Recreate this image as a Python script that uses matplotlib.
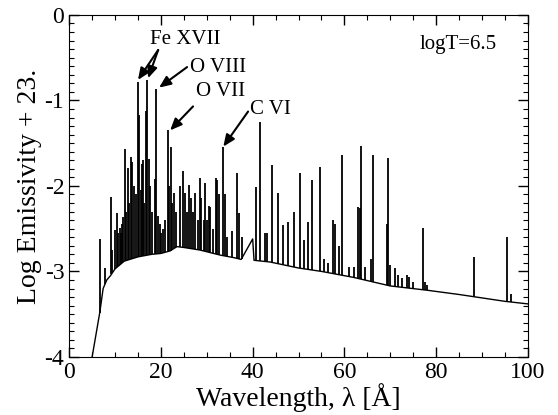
import numpy as np
import matplotlib
matplotlib.use('Agg')
import matplotlib.pyplot as plt
from matplotlib.ticker import MultipleLocator

plt.rcParams['font.family'] = ['Liberation Serif', 'DejaVu Serif']
plt.rcParams['mathtext.fontset'] = 'stix'

# continuum (wavelength in A, log emissivity + 23)
cont_wl = [5.0, 5.9, 6.7, 7.4, 8.2, 9.0, 10.0, 12.0, 15.0, 18.0, 20.0, 22.0, 23.5,
           25.0, 28.5, 33.0, 36.0, 37.5, 40.0, 40.3, 43.8, 50.0, 55.0, 62.0, 70.0,
           78.0, 85.0, 95.0, 100.0]
cont_val = [-4.0, -3.72, -3.47, -3.20, -3.10, -3.05, -2.97, -2.88, -2.83, -2.80, -2.79,
            -2.76, -2.71, -2.72, -2.75, -2.81, -2.84, -2.86, -2.62, -2.87, -2.89, -2.96,
            -3.00, -3.07, -3.17, -3.22, -3.27, -3.35, -3.38]

# emission lines: wavelength and peak value
line_wl = [6.65, 7.8, 9.2, 9.4, 10.0, 10.4, 10.7, 11.0, 11.3, 11.6, 11.8, 12.15, 12.4,
           12.85, 13.1, 13.5, 13.8, 14.2, 14.5, 15.01, 15.26, 15.6, 15.9, 16.1, 16.4,
           16.78, 17.05, 17.3, 17.6, 18.0, 18.6, 18.97, 19.3, 19.7, 20.1, 20.5, 20.9,
           21.6, 21.8, 22.1, 22.4, 22.9, 23.3, 24.2, 24.8, 25.2, 25.6, 26.1, 26.5, 27.0,
           27.5, 28.0, 28.5, 28.8, 29.3, 29.6, 30.0, 30.4, 30.8, 31.3, 32.0, 32.3, 32.6,
           33.5, 33.9, 34.5, 35.5, 36.6, 37.0, 37.6, 40.7, 41.6, 42.7, 43.1, 44.2, 45.5,
           46.6, 47.7, 49.0, 50.3, 51.2, 52.1, 52.9, 54.7, 55.5, 56.5, 57.5, 58.0, 58.9,
           59.4, 61.0, 62.2, 63.0, 63.3, 63.6, 64.5, 65.8, 66.2, 69.2, 69.6, 70.0, 71.0,
           71.7, 72.5, 73.6, 74.0, 74.9, 77.1, 77.6, 78.0, 88.2, 95.4, 96.3]
line_peak = [-2.62, -2.96, -2.13, -2.75, -2.51, -2.32, -2.55, -2.49, -2.55, -2.45, -2.36,
             -1.57, -2.30, -1.79, -2.20, -1.66, -1.72, -2.00, -2.10, -0.78, -1.17, -2.05,
             -1.74, -1.70, -2.20, -1.12, -0.76, -1.68, -2.00, -2.30, -1.92, -0.87, -2.35,
             -2.45, -2.55, -2.50, -2.40, -1.35, -2.00, -1.55, -2.20, -2.08, -2.30, -2.00,
             -1.83, -2.08, -2.30, -1.99, -2.14, -2.30, -2.08, -2.40, -1.91, -2.14, -2.40,
             -1.96, -2.40, -2.24, -2.25, -2.50, -1.91, -1.93, -2.10, -1.55, -2.10, -2.60,
             -2.53, -1.85, -2.32, -2.60, -2.01, -1.25, -2.55, -2.55, -1.75, -2.08, -2.46,
             -2.42, -2.30, -1.85, -2.63, -2.42, -1.93, -1.78, -2.85, -2.90, -2.40, -2.44,
             -2.70, -1.64, -2.95, -2.95, -2.25, -2.26, -1.53, -2.95, -2.85, -1.64, -2.45,
             -1.67, -2.92, -2.96, -3.04, -3.08, -3.04, -3.06, -3.12, -2.49, -3.12, -3.16,
             -2.83, -2.60, -3.27]

fig = plt.figure(figsize=(5.58, 4.15), dpi=100)
ax = fig.add_axes([0.124, 0.140, 0.822, 0.824])

ax.plot(cont_wl, cont_val, color='black', lw=1.0)
base = np.interp(line_wl, cont_wl, cont_val)
ax.vlines(line_wl, base, line_peak, color='black', lw=1.3)

ax.set_xlim(0, 100)
ax.set_ylim(-4, 0)
ax.xaxis.set_major_locator(MultipleLocator(20))
ax.xaxis.set_minor_locator(MultipleLocator(5))
ax.yaxis.set_major_locator(MultipleLocator(1))
ax.yaxis.set_minor_locator(MultipleLocator(0.1))
ax.tick_params(which='both', direction='in', top=True, right=True, labelsize=17)
ax.tick_params(which='major', length=7, width=1)
ax.tick_params(which='minor', length=3.5, width=0.8)
ax.set_yticks([0, -1, -2, -3, -4])
ax.set_yticklabels(['0', '-1', '-2', '-3', '-4'])

ax.set_xlabel('Wavelength, λ [Å]', fontsize=20, labelpad=0)
ax.set_ylabel('Log Emissivity + 23.', fontsize=20, labelpad=2)

# labels and arrows
arrow = dict(arrowstyle='-|>,head_length=0.7,head_width=0.3', color='black', lw=1.5,
             shrinkA=0, shrinkB=0)
ax.text(25.3, -0.29, 'Fe XVII', fontsize=15, ha='center', va='center')
ax.annotate('', xy=(15.0, -0.76), xytext=(19.4, -0.41), arrowprops=arrow)
ax.annotate('', xy=(17.2, -0.74), xytext=(19.4, -0.41), arrowprops=arrow)
ax.text(32.5, -0.62, 'O VIII', fontsize=15, ha='center', va='center')
ax.annotate('', xy=(19.6, -0.85), xytext=(25.7, -0.61), arrowprops=arrow)
ax.text(33.1, -0.90, 'O VII', fontsize=15, ha='center', va='center')
ax.annotate('', xy=(22.0, -1.35), xytext=(27.0, -1.07), arrowprops=arrow)
ax.text(43.8, -1.11, 'C VI', fontsize=15, ha='center', va='center')
ax.annotate('', xy=(33.6, -1.54), xytext=(39.0, -1.13), arrowprops=arrow)
ax.text(84.8, -0.35, 'logT=6.5', fontsize=15, ha='center', va='center')

fig.savefig('out.png', dpi=100)
